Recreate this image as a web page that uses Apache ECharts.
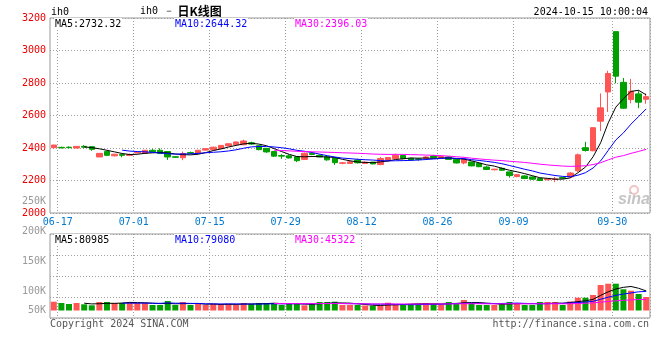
<!DOCTYPE html>
<html><head><meta charset="utf-8">
<script src="https://cdn.jsdelivr.net/npm/echarts@6/dist/echarts.min.js"></script>
<style>html,body{margin:0;padding:0;background:#fff}#c{width:660px;height:360px}</style>
</head><body><div id="c"></div>
<script>
// ---- data ----
const dates = [
 '06-17','06-18','06-19','06-20','06-21','06-24','06-25','06-26','06-27','06-28',
 '07-01','07-02','07-03','07-04','07-05','07-08','07-09','07-10','07-11','07-12',
 '07-15','07-16','07-17','07-18','07-19','07-22','07-23','07-24','07-25','07-26',
 '07-29','07-30','07-31','08-01','08-02','08-05','08-06','08-07','08-08','08-09',
 '08-12','08-13','08-14','08-15','08-16','08-19','08-20','08-21','08-22','08-23',
 '08-26','08-27','08-28','08-29','08-30','09-02','09-03','09-04','09-05','09-06',
 '09-09','09-10','09-11','09-12','09-13','09-18','09-19','09-20','09-23','09-24',
 '09-25','09-26','09-27','09-30','10-08','10-09','10-10','10-11','10-14'
];
const tickLabels = ['06-17','07-01','07-15','07-29','08-12','08-26','09-09','09-30'];
const opens = [
 2402,2404,2405,2400,2410,2408,2345,2378,2352,2360,
 2354,2370,2367,2386,2386,2378,2346,2340,2372,2369,
 2387,2390,2396,2413,2420,2420,2432,2414,2398,2378,
 2354,2352,2346,2330,2368,2355,2346,2338,2306,2305,
 2326,2305,2313,2298,2322,2335,2354,2336,2332,2337,
 2351,2338,2345,2330,2308,2314,2306,2283,2266,2275,
 2253,2224,2228,2222,2212,2205,2206,2218,2222,2260,
 2402,2383,2565,2745,3116,2804,2698,2733,2700
];
const closes = [
 2418,2401,2402,2410,2405,2392,2367,2355,2362,2355,
 2360,2374,2386,2376,2366,2345,2343,2366,2368,2386,
 2396,2405,2416,2426,2437,2443,2424,2390,2376,2350,
 2350,2339,2322,2368,2360,2345,2327,2310,2309,2315,
 2309,2313,2302,2335,2341,2355,2335,2326,2330,2345,
 2342,2348,2330,2308,2330,2290,2285,2268,2270,2263,
 2230,2236,2212,2208,2200,2210,2210,2214,2246,2358,
 2385,2525,2647,2858,2842,2645,2749,2682,2716
];
const lows = [
 2398,2398,2399,2398,2398,2383,2344,2350,2348,2343,
 2350,2366,2365,2372,2364,2327,2340,2325,2362,2365,
 2385,2386,2394,2410,2416,2418,2420,2386,2370,2346,
 2333,2335,2313,2327,2356,2343,2322,2296,2300,2302,
 2305,2302,2300,2294,2318,2332,2330,2322,2322,2334,
 2340,2336,2328,2305,2300,2288,2282,2264,2262,2260,
 2218,2220,2210,2205,2196,2200,2190,2210,2218,2253,
 2378,2380,2504,2622,2798,2640,2675,2645,2672
];
const highs = [
 2420,2408,2410,2412,2418,2409,2368,2381,2364,2362,
 2366,2378,2388,2394,2398,2380,2350,2378,2378,2388,
 2398,2408,2418,2430,2441,2451,2439,2418,2400,2380,
 2362,2360,2348,2372,2374,2360,2350,2341,2313,2320,
 2335,2316,2315,2345,2345,2365,2358,2340,2338,2350,
 2358,2352,2348,2335,2338,2316,2308,2290,2272,2280,
 2255,2240,2232,2225,2214,2214,2222,2222,2252,2366,
 2438,2528,2736,2875,3118,2831,2825,2753,2736
];
const volumes = [
 36500,31200,27000,31100,25700,21600,35300,35200,31000,31200,
 35300,31100,31000,22800,22900,39400,22800,35300,22800,27000,
 22800,27000,26900,27100,22800,31100,27000,31200,31100,31000,
 22800,27000,31100,21600,27000,35300,35200,36500,22800,22900,
 22800,20800,18700,18700,32400,27000,26900,27000,27100,31100,
 27000,22800,35300,31100,43600,31100,22800,22900,22800,31100,
 35300,31100,22800,22900,35300,35200,35300,22800,37400,53100,
 53200,64300,105800,111200,111300,88000,82200,68500,56000
];
const priceTickValues = [2000, 2200, 2400, 2600, 2800, 3000, 3200];
const volTickLabels = ['250K', '200K', '150K', '100K', '50K'];
const legendPrice = ['MA5:2732.32', 'MA10:2644.32', 'MA30:2396.03'];
const legendVol = ['MA5:80985', 'MA10:79080', 'MA30:45322'];

// ---- derived ----
function movingAvg(arr, n) {
  return arr.map((v, i) => {
    if (i < n - 1) return '-';
    let s = 0;
    for (let k = i - n + 1; k <= i; k++) s += arr[k];
    return +(s / n).toFixed(2);
  });
}
const UP = '#ff5555', DOWN = '#00a000';
const candles = dates.map((d, i) => [opens[i], closes[i], lows[i], highs[i]]);
const volBars = volumes.map((v, i) => ({ value: v, itemStyle: { color: closes[i] >= opens[i] ? UP : DOWN } }));
const MONO = "'DejaVu Sans Mono', 'Liberation Mono', monospace";
const dotted = { color: '#a0a0a0', type: [1, 2], width: 1 };

const labelFn = (idx, val) => tickLabels.indexOf(val) >= 0;
const splitFn = (idx) => idx > 0 && tickLabels.indexOf(dates[idx - 1]) >= 0;

function mkLine(data, color, xi, yi) {
  return { type: 'line', data, xAxisIndex: xi, yAxisIndex: yi, symbol: 'none', silent: true,
    lineStyle: { color, width: 1 }, itemStyle: { color }, z: 3 };
}

const chart = echarts.init(document.getElementById('c'), null, { renderer: 'canvas' });
const txt = (x, y, text, color, align, extra) => Object.assign({
  type: 'text', x, y, z: 100,
  style: Object.assign({ text, fill: color, font: '10px ' + MONO, align: align || 'left', verticalAlign: 'middle' }, extra || {})
});
const legendStyle = { backgroundColor: '#fff', padding: [1, 1, 1, 1] };

chart.setOption({
  animation: false,
  backgroundColor: '#fff',
  grid: [
    { left: 50, top: 18, width: 600, height: 195, show: true, borderColor: '#999', borderWidth: 1, containLabel: false },
    { left: 50, top: 234, width: 600, height: 84, show: true, borderColor: '#999', borderWidth: 1, containLabel: false }
  ],
  xAxis: [
    { type: 'category', gridIndex: 0, data: dates, boundaryGap: true,
      axisLine: { show: false }, axisTick: { show: false },
      axisLabel: { interval: labelFn, color: '#0078d0', fontFamily: MONO, fontSize: 10, margin: 4, padding: [0, 0, 0, 8] },
      splitLine: { show: true, interval: splitFn, lineStyle: dotted } },
    { type: 'category', gridIndex: 1, data: dates, boundaryGap: true,
      axisLine: { show: false }, axisTick: { show: false }, axisLabel: { show: false },
      splitLine: { show: true, interval: splitFn, lineStyle: dotted } }
  ],
  yAxis: [
    { type: 'value', gridIndex: 0, min: priceTickValues[0], max: priceTickValues[priceTickValues.length - 1], interval: 200,
      axisLine: { show: false }, axisTick: { show: false },
      axisLabel: { color: '#ee0000', fontFamily: MONO, fontSize: 10, margin: 4, padding: [0, 0, 3, 0], formatter: (v) => String(v) },
      splitLine: { show: true, lineStyle: dotted } },
    { type: 'value', gridIndex: 1, min: -31125, max: 317475,
      axisLine: { show: false }, axisTick: { show: false }, axisLabel: { show: false }, splitLine: { show: false } },
    { type: 'value', gridIndex: 1, min: 0, max: 4, interval: 1, position: 'left',
      axisLine: { show: false }, axisTick: { show: false }, axisLabel: { show: false },
      splitLine: { show: true, lineStyle: dotted } }
  ],
  series: [
    { type: 'candlestick', xAxisIndex: 0, yAxisIndex: 0, data: candles, barWidth: 6, silent: true,
      itemStyle: { color: UP, color0: DOWN, borderColor: UP, borderColor0: DOWN, borderWidth: 1 }, z: 2 },
    mkLine(movingAvg(closes, 5), '#000000', 0, 0),
    mkLine(movingAvg(closes, 10), '#0000ff', 0, 0),
    mkLine(movingAvg(closes, 30), '#ff00ff', 0, 0),
    { type: 'bar', xAxisIndex: 1, yAxisIndex: 1, data: volBars, barWidth: 6, silent: true, z: 2 },
    mkLine(movingAvg(volumes, 5), '#000000', 1, 1),
    mkLine(movingAvg(volumes, 10), '#0000ff', 1, 1),
    mkLine(movingAvg(volumes, 30), '#ff00ff', 1, 1)
  ],
  graphic: [
    txt(51, 12, 'ih0', '#000'),
    { type: 'text', x: 140, y: 11, z: 100, style: {
        text: '{a|ih0 －} {b|日K线图}', verticalAlign: 'middle',
        rich: { a: { font: '10px ' + MONO, fill: '#000' }, b: { font: "bold 12px 'Noto Sans CJK SC'", fill: '#000' } } } },
    txt(648, 12, '2024-10-15 10:00:04', '#000', 'right'),
    txt(54, 24, legendPrice[0], '#000', 'left', legendStyle),
    txt(174, 24, legendPrice[1], '#0000ff', 'left', legendStyle),
    txt(294, 24, legendPrice[2], '#ff00ff', 'left', legendStyle),
    txt(54, 240, legendVol[0], '#000', 'left', legendStyle),
    txt(174, 240, legendVol[1], '#0000ff', 'left', legendStyle),
    txt(294, 240, legendVol[2], '#ff00ff', 'left', legendStyle),
    txt(46, 201, volTickLabels[0], '#999', 'right'),
    txt(46, 231, volTickLabels[1], '#999', 'right'),
    txt(46, 261, volTickLabels[2], '#999', 'right'),
    txt(46, 291, volTickLabels[3], '#999', 'right'),
    txt(46, 310, volTickLabels[4], '#999', 'right'),
    txt(50, 324, 'Copyright 2024 SINA.COM', '#555'),
    txt(649, 324, 'http://finance.sina.com.cn', '#555', 'right'),
    { type: 'circle', z: 1, shape: { cx: 634, cy: 190, r: 4 }, style: { fill: 'none', stroke: '#f3c4c4', lineWidth: 2 } },
    { type: 'text', x: 618, y: 200, z: 1, style: { text: 'sina', fill: '#c4c4c4', font: "italic bold 16px 'Liberation Sans'", verticalAlign: 'middle' } }
  ]
});
</script></body></html>
